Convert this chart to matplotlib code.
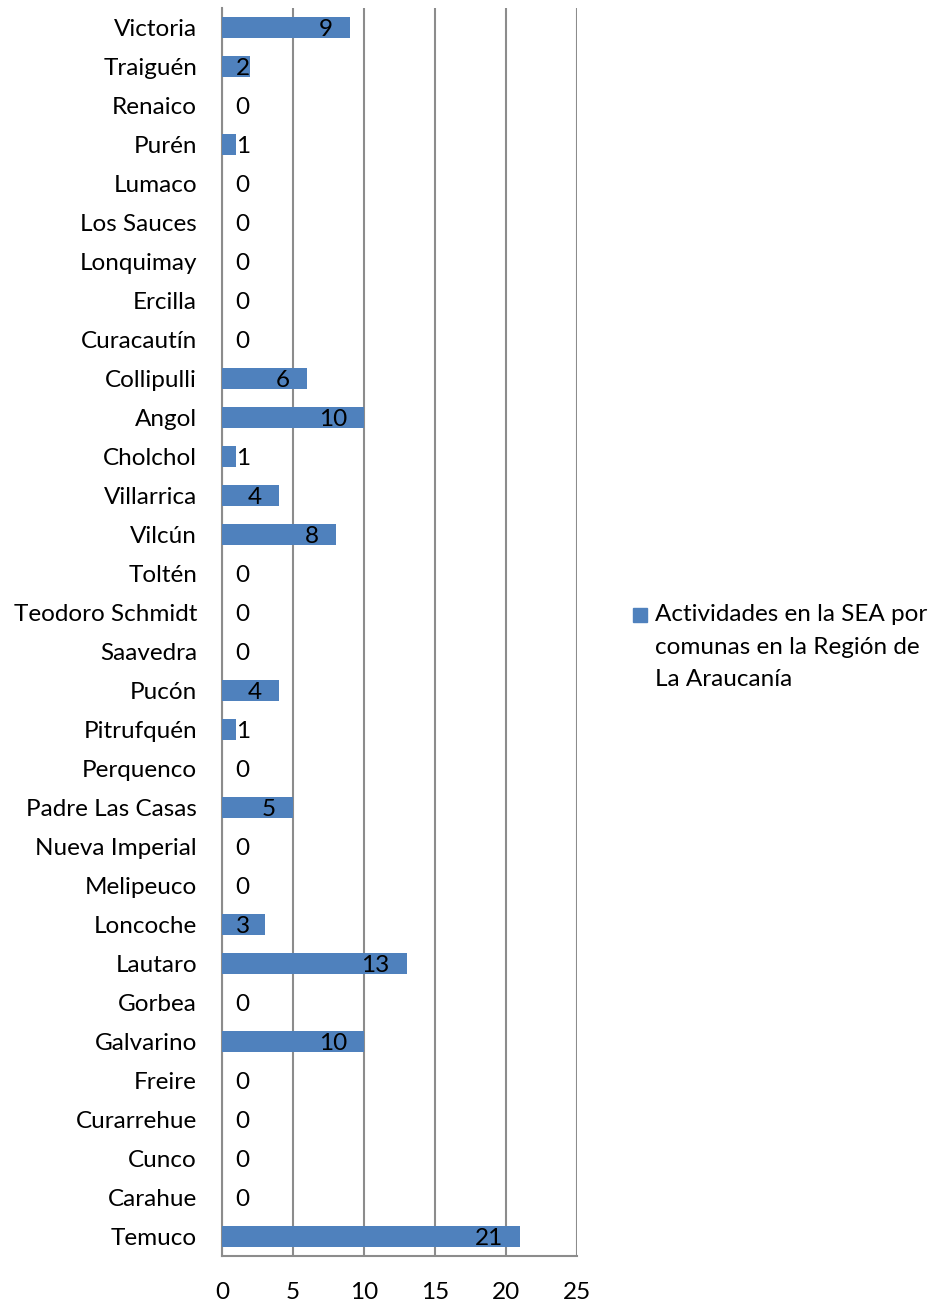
import matplotlib
matplotlib.use('Agg')
import matplotlib.pyplot as plt
from matplotlib.patches import Rectangle

# comunas listed top to bottom as in the chart
comunas = [
    'Victoria', 'Traiguén', 'Renaico', 'Purén', 'Lumaco', 'Los Sauces',
    'Lonquimay', 'Ercilla', 'Curacautín', 'Collipulli', 'Angol', 'Cholchol',
    'Villarrica', 'Vilcún', 'Toltén', 'Teodoro Schmidt', 'Saavedra', 'Pucón',
    'Pitrufquén', 'Perquenco', 'Padre Las Casas', 'Nueva Imperial',
    'Melipeuco', 'Loncoche', 'Lautaro', 'Gorbea', 'Galvarino', 'Freire',
    'Curarrehue', 'Cunco', 'Carahue', 'Temuco',
]
actividades = [
    9, 2, 0, 1, 0, 0, 0, 0, 0, 6, 10, 1, 4, 8, 0, 0, 0, 4, 1, 0, 5, 0, 0, 3,
    13, 0, 10, 0, 0, 0, 0, 21,
]
serie = 'Actividades en la SEA por\ncomunas en la Región de\nLa Araucanía'
x_ticks = [0, 5, 10, 15, 20, 25]

plt.rcParams['font.family'] = ['Lato', 'DejaVu Sans']
bar_color = '#4F81BD'
grid_color = '#8C8C8C'
fs = 17.5

fig = plt.figure(figsize=(9.32, 13.03), dpi=100)
ax = fig.add_axes([0.2382, 0.0361, 0.3809, 0.9578])

ypos = list(range(len(comunas)))
ax.barh(ypos, actividades, height=0.56, color=bar_color, zorder=3)
ax.set_ylim(len(comunas) - 0.5, -0.5)
ax.set_xlim(0, 25)
ax.set_yticks(ypos)
ax.set_yticklabels(comunas, fontsize=fs)
ax.set_xticks(x_ticks)
ax.set_xticklabels([str(t) for t in x_ticks], fontsize=fs)
ax.tick_params(axis='both', length=0, colors='black')
ax.tick_params(axis='y', pad=18)
ax.tick_params(axis='x', pad=19)

ax.grid(axis='x', color=grid_color, linewidth=1.5, zorder=0)
for side in ('top', 'right'):
    ax.spines[side].set_visible(False)
for side in ('left', 'bottom'):
    ax.spines[side].set_color(grid_color)
    ax.spines[side].set_linewidth(1.5)

for y, v in zip(ypos, actividades):
    ax.text(max(v - 1.2, 1.95), y + 0.05, str(v), ha='right', va='center',
            fontsize=fs, color='black', zorder=4)

# legend drawn by hand so the key sits on the first text line
fig.add_artist(Rectangle((633 / 932, 1 - 622 / 1303), 14 / 932, 14 / 1303,
                         transform=fig.transFigure, color=bar_color))
fig.text(655 / 932, 1 - 604 / 1303, serie, ha='left', va='top',
         fontsize=fs, linespacing=1.68)

fig.savefig('out.png', dpi=100)
